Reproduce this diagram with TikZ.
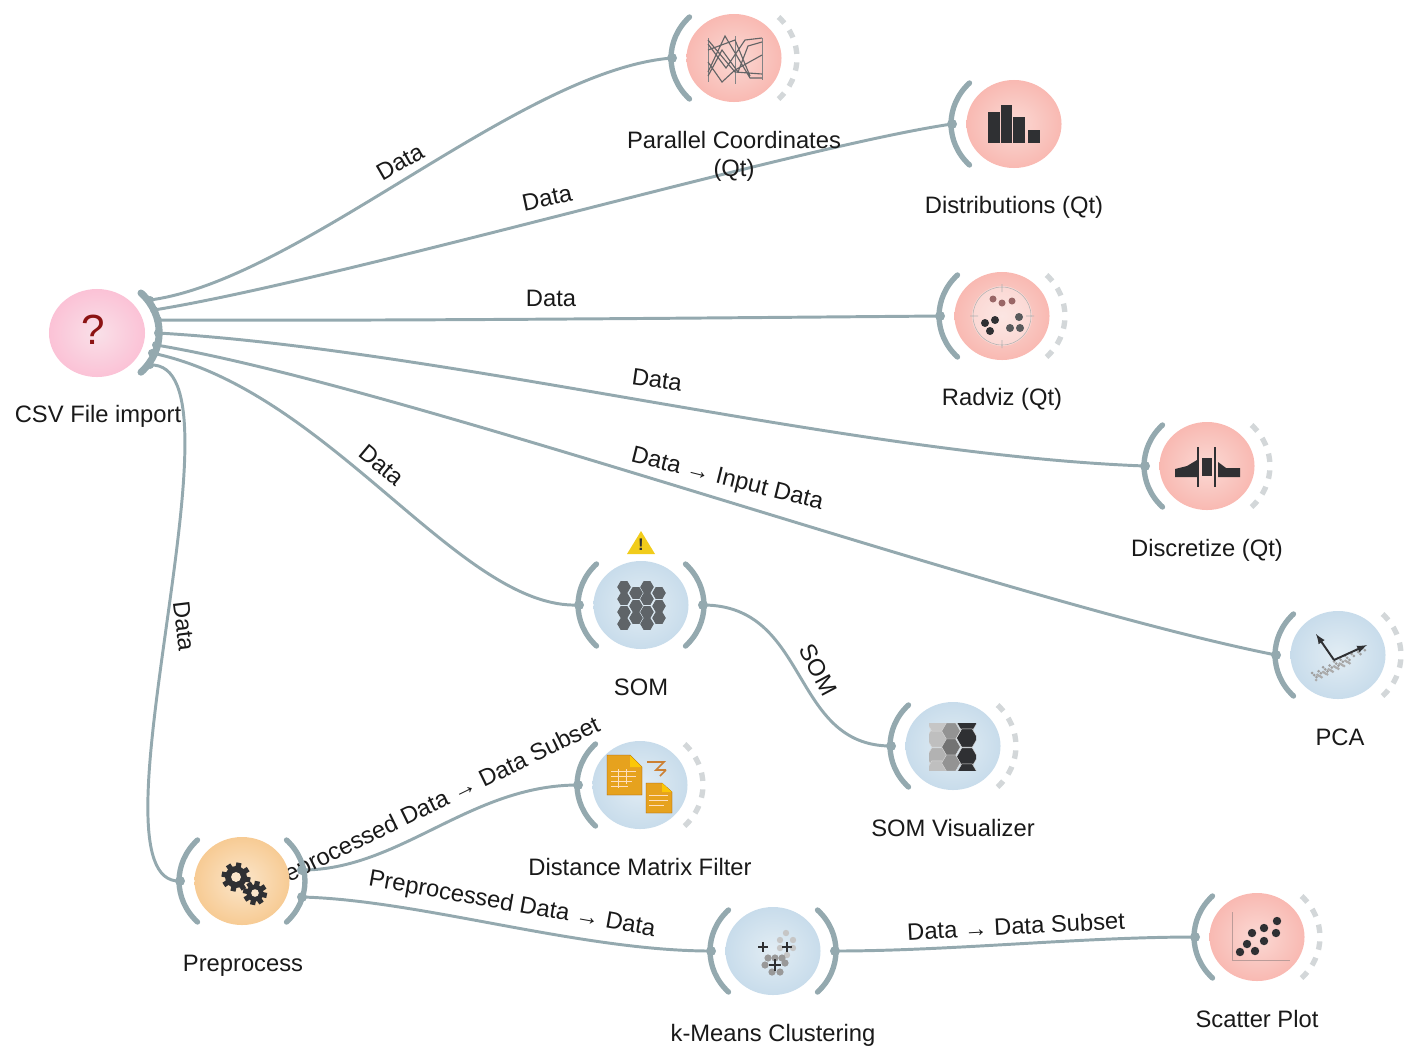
\documentclass[tikz,border=0pt]{standalone}
\usepackage{fontspec}
\usetikzlibrary{shapes.geometric}
\setmainfont{Liberation Sans}
\definecolor{linkgray}{HTML}{94A9AF}
\definecolor{dashgray}{HTML}{D3D7D9}
\definecolor{icondark}{HTML}{2F3033}
\definecolor{hexgray}{HTML}{5F6468}
\definecolor{docorange}{HTML}{E6A21E}
\definecolor{redin}{HTML}{FAD9D4}
\definecolor{redout}{HTML}{F9B9B2}
\definecolor{bluein}{HTML}{E2EDF4}
\definecolor{blueout}{HTML}{C8DCEB}
\definecolor{orangein}{HTML}{FBE6CB}
\definecolor{orangeout}{HTML}{F7CB94}
\definecolor{pinkin}{HTML}{F9E0E8}
\definecolor{pinkout}{HTML}{FBC2D6}
\tikzset{
	widget/.style={ellipse, minimum width=2.375cm, minimum height=2.2cm, inner sep=0pt},
	widget red/.style={widget, inner color=redin, outer color=redout},
	widget blue/.style={widget, inner color=bluein, outer color=blueout},
	widget orange/.style={widget, inner color=orangein, outer color=orangeout},
	widget pink/.style={widget, inner color=pinkin, outer color=pinkout},
	link/.style={linkgray, line width=2.1pt},
	portarc/.style={linkgray, line width=3.8pt, line cap=round},
	freearc/.style={dashgray, line width=3.8pt, dash pattern=on 6pt off 6pt},
	caption/.style={text=black!90, font=\fontsize{16.9}{20}\selectfont, inner sep=0pt},
	linktext/.style={text=black!90, font=\fontsize{16.9}{20}\selectfont, inner sep=0pt},
}
\begin{document}
\begin{tikzpicture}[x=0.025cm, y=0.025cm, yscale=-1]
	\useasboundingbox (0,0) rectangle (1411,1048);
	% ports
	\foreach \nm/\px/\py/\tone in {pc/734/58/red, dist/1014/124/red, radviz/1002/316/red, disc/1207/466/red, pca/1338/655/blue, som/641/605/blue, somvis/953/746/blue, dmf/640/785/blue, pre/242/881/orange, km/773/951/blue, scat/1257/937/red}{
		\coordinate (\nm in) at (\px-62,\py);
	}
	\coordinate (somout) at (703,605);
	\coordinate (preout1) at (302,870);
	\coordinate (preout2) at (302,897);
	\coordinate (kmout) at (835,951);
	\coordinate (csvout1) at (150,300);
	\coordinate (csvout2) at (154,310);
	\coordinate (csvout3) at (158,320);
	\coordinate (csvout4) at (158,333);
	\coordinate (csvout5) at (156,345);
	\coordinate (csvout6) at (152,353);
	\coordinate (csvout7) at (150,365);
	% links
	\draw[link] (csvout1) .. controls (300,280) and (520,70) .. (pcin);
	\draw[link] (csvout2) .. controls (340,280) and (800,146) .. (distin);
	\draw[link] (csvout3) .. controls (400,321) and (700,318) .. (radvizin);
	\draw[link] (csvout4) .. controls (450,350) and (850,455) .. (discin);
	\draw[link] (csvout5) .. controls (400,385) and (1000,600) .. (pcain);
	\draw[link] (csvout6) .. controls (330,390) and (460,610) .. (somin);
	\draw[link] (csvout7) .. controls (255,360) and (80,885) .. (prein);
	\draw[link] (preout1) .. controls (400,870) and (470,785) .. (dmfin);
	\draw[link] (preout2) .. controls (420,900) and (580,951) .. (kmin);
	\draw[link] (kmout) .. controls (950,951) and (1080,937) .. (scatin);
	\draw[link] (somout) .. controls (810,605) and (790,746) .. (somvisin);
	% link labels
	\node[linktext, rotate=30] (lbpc) at (400,162) {Data};
	\node[linktext, rotate=12] (lbdist) at (547,198) {Data};
	\node[linktext] (lbradviz) at (551,298) {Data};
	\node[linktext, rotate=-8] (lbdisc) at (657,380) {Data};
	\node[linktext, rotate=-14] (lbpca) at (727,480) {Data → Input Data};
	\node[linktext, rotate=-40] (lbsom) at (382,465) {Data};
	\node[linktext, rotate=-83] (lbpre) at (184,626) {Data};
	\node[linktext, rotate=-62] (lbvis) at (818,670) {SOM};
	\node[linktext, rotate=26] (lbdmf) at (432,806) {Preprocessed Data → Data Subset};
	\node[linktext, rotate=-10] (lbkm) at (512,905) {Preprocessed Data → Data};
	\node[linktext, rotate=3] (lbscat) at (1016,926) {Data → Data Subset};
	% widgets
	\foreach \nm/\px/\py/\tone in {pc/734/58/red, dist/1014/124/red, radviz/1002/316/red, disc/1207/466/red, pca/1338/655/blue, som/641/605/blue, somvis/953/746/blue, dmf/640/785/blue, pre/242/881/orange, km/773/951/blue, scat/1257/937/red}{
		\node[widget \tone] (\nm) at (\px,\py) {};
		\draw[portarc] (\nm) ++(-44.5,41) arc[start angle=135, end angle=225, x radius=63, y radius=58];
		\fill[linkgray] (\nm in) circle[radius=5];
	}
	\node[widget pink, minimum width=2.4cm, minimum height=2.2cm] (csv) at (97,333) {};
	% open and used outputs
	\foreach \nm in {pc, radviz, disc, pca, somvis, dmf, scat}{
		\draw[freearc] (\nm) ++(44.5,-41) arc[start angle=-45, end angle=45, x radius=63, y radius=58];
	}
	\foreach \nm in {som, pre, km}{
		\draw[portarc] (\nm) ++(44.5,-41) arc[start angle=-45, end angle=45, x radius=63, y radius=58];
	}
	\fill[linkgray] (somout) circle[radius=5];
	\fill[linkgray] (kmout) circle[radius=5];
	\fill[linkgray] (preout1) circle[radius=5];
	\fill[linkgray] (preout2) circle[radius=5];
	\draw[portarc, line width=5pt] (csv) ++(44,-40) arc[start angle=-45, end angle=45, x radius=62, y radius=56];
	\foreach \i in {1,...,7}{
		\fill[linkgray] (csvout\i) circle[radius=4];
	}
	% csv
	\node[text=red!50!black!90!pink, font=\fontsize{30}{32}\selectfont] (csvmark) at (93,330) {?};
	% parallel coordinates
	\draw[icondark!60, line width=0.6pt] (708,38) -- (708,82) (735,36) -- (735,84) (762,38) -- (762,80);
	\draw[icondark!75, line width=0.8pt] (708,40) -- (735,72) -- (762,74) (708,72) -- (725,36) -- (750,78) -- (762,78) (708,50) -- (735,40) -- (750,76) (708,62) -- (722,82) -- (735,70) -- (762,55) (708,44) -- (726,68) -- (745,40) -- (762,38) (708,76) -- (722,50) -- (738,72) -- (748,46) -- (762,42);
	% distributions
	\fill[icondark] (988,112) rectangle (1000,143);
	\fill[icondark] (1001,105) rectangle (1012,143);
	\fill[icondark] (1013,117) rectangle (1025,143);
	\fill[icondark] (1028,130) rectangle (1040,143);
	% radviz
	\fill[white, opacity=0.35] (radviz) circle[radius=30];
	\draw[gray!60, line width=0.4pt] (radviz) circle[radius=29] (1002,284) -- (1002,292) (1002,340) -- (1002,348) (970,316) -- (978,316) (1026,316) -- (1034,316);
	\fill[gray!80!red] (993,299) circle[radius=3.5] (1002,303) circle[radius=3.5] (1012,301) circle[radius=3.5];
	\fill[icondark] (985,323) circle[radius=4] (995,320) circle[radius=4] (990,331) circle[radius=4];
	\fill[icondark!80] (1019,317) circle[radius=4] (1010,328) circle[radius=4] (1020,328) circle[radius=4];
	% discretize
	\fill[icondark] (1175,477) -- (1175,469) -- (1187,466) -- (1197,460) -- (1197,477) -- cycle;
	\fill[icondark] (1202,458) rectangle (1212,476);
	\fill[icondark] (1218,462) -- (1226,468) -- (1240,468) -- (1240,477) -- (1218,477) -- cycle;
	\draw[icondark, line width=0.9pt] (1198,447) -- (1198,487) (1215,447) -- (1215,487);
	% pca
	\foreach \t in {0,...,24}{
		\fill[gray!75] ({1312+\t*2.2},{676-\t*1.15+mod(\t*7,5)*1.6-3}) circle[radius=1.5];
		\fill[gray!65] ({1316+\t*1.4},{680-\t*0.7-mod(\t*3,4)*1.5}) circle[radius=1.5];
	}
	\draw[icondark, line width=1.4pt, -latex] (1334,660) -- (1316,634);
	\draw[icondark, line width=1.4pt, -latex] (1334,660) -- (1367,645);
	% som
	\foreach \hx/\hys in {624/{587,599,612,624}, 636/{593,606,618}, 647/{587,599,612,624}, 659/{593,606,618}}{
		\foreach \hy in \hys{
			\fill[hexgray] (\hx,\hy) +(0:6.8) -- +(60:6.8) -- +(120:6.8) -- +(180:6.8) -- +(240:6.8) -- +(300:6.8) -- cycle;
		}
	}
	% som visualizer
	\begin{scope}
		\clip (929,723) rectangle (976,770);
		\foreach \hx/\hy/\hr/\hc in {937/738/10.5/gray!50, 937/757/10.5/gray!60, 937/722/10.5/gray!45, 937/770/10.5/gray!50, 967/722/10.5/icondark, 967/738/10.5/icondark, 967/757/10.5/icondark, 967/773/10.5/icondark, 951/731/9.3/gray!85, 951/747/9.3/gray!90!black, 951/763/9.3/gray!85}{
			\fill[\hc, draw=white!70!gray, line width=0.3pt] (\hx,\hy) +(0:\hr) -- +(60:\hr) -- +(120:\hr) -- +(180:\hr) -- +(240:\hr) -- +(300:\hr) -- cycle;
		}
	\end{scope}
	% distance matrix filter
	\fill[docorange, draw=orange!60!black, line width=0.3pt] (607,755) -- (630,755) -- (642,767) -- (642,795) -- (607,795) -- cycle;
	\fill[yellow!60!orange] (630,755) -- (642,767) -- (630,767) -- cycle;
	\draw[white!75!orange, line width=0.5pt] (611,771) -- (636,771) (611,776) -- (636,776) (611,781) -- (632,781) (611,786) -- (628,786) (618,769) -- (618,788) (626,769) -- (626,784);
	\fill[docorange, draw=orange!60!black, line width=0.3pt] (646,783) -- (662,783) -- (672,792) -- (672,813) -- (646,813) -- cycle;
	\fill[yellow!60!orange] (662,783) -- (672,792) -- (662,792) -- cycle;
	\draw[white!75!orange, line width=0.5pt] (649,795) -- (668,795) (649,800) -- (668,800) (649,805) -- (664,805);
	\draw[orange!60!gray, line width=1.2pt] (647,762) -- (664,762) -- (656,770) -- (666,770) (660,776) -- (666,770);
	% preprocess
	\foreach \gx/\gy/\gr in {236/877/11, 255/893/8.5}{
		\fill[icondark] (\gx,\gy) circle[radius=\gr];
		\foreach \a in {0,45,...,315}{
			\fill[icondark, shift={(\gx,\gy)}, rotate=\a+12] (\gr-1,-2.6) rectangle (\gr+3.5,2.6);
		}
		\fill[orangein] (\gx,\gy) circle[radius=\gr*0.45];
	}
	% k-means
	\foreach \dx/\dy in {786/933, 780/940, 793/940, 793/948, 780/948, 787/955}{
		\fill[gray!45] (\dx,\dy) circle[radius=3.2];
	}
	\foreach \dx/\dy in {768/958, 775/958, 782/958, 765/965, 785/963, 772/972, 780/972}{
		\fill[gray!80] (\dx,\dy) circle[radius=3.6];
	}
	\draw[icondark, line width=1.6pt] (758,947) -- (768,947) (763,942) -- (763,952) (782,947) -- (792,947) (787,942) -- (787,952) (769,965) -- (781,965) (775,959) -- (775,971);
	% scatter plot
	\draw[gray!50!redout, line width=0.7pt] (1232,912) -- (1232,960) -- (1290,960);
	\foreach \dx/\dy in {1240/952, 1255/951, 1247/944, 1264/941, 1252/933, 1264/928, 1276/933, 1277/921}{
		\fill[icondark] (\dx,\dy) circle[radius=4.2];
	}
	% warning
	\fill[yellow!70!orange!90!gray] (641,531) -- (655,554) -- (627,554) -- cycle;
	\node[text=icondark, font=\fontsize{12}{14}\selectfont\bfseries, inner sep=0pt] (somwarn) at (641,545) {!};
	% captions
	\node[caption] (cvcsv) at (98,416) {CSV File import};
	\node[caption, align=center] (cvpc) at (734,156) {Parallel Coordinates\\(Qt)};
	\node[caption] (cvdist) at (1014,207) {Distributions (Qt)};
	\node[caption] (cvradviz) at (1002,399) {Radviz (Qt)};
	\node[caption] (cvdisc) at (1207,550) {Discretize (Qt)};
	\node[caption] (cvpca) at (1340,737) {PCA};
	\node[caption] (cvsom) at (641,687) {SOM};
	\node[caption] (cvvis) at (953,828) {SOM Visualizer};
	\node[caption] (cvdmf) at (640,867) {Distance Matrix Filter};
	\node[caption] (cvpre) at (243,966) {Preprocess};
	\node[caption] (cvkm) at (773,1035) {k-Means Clustering};
	\node[caption] (cvscat) at (1257,1019) {Scatter Plot};
\end{tikzpicture}
\end{document}
